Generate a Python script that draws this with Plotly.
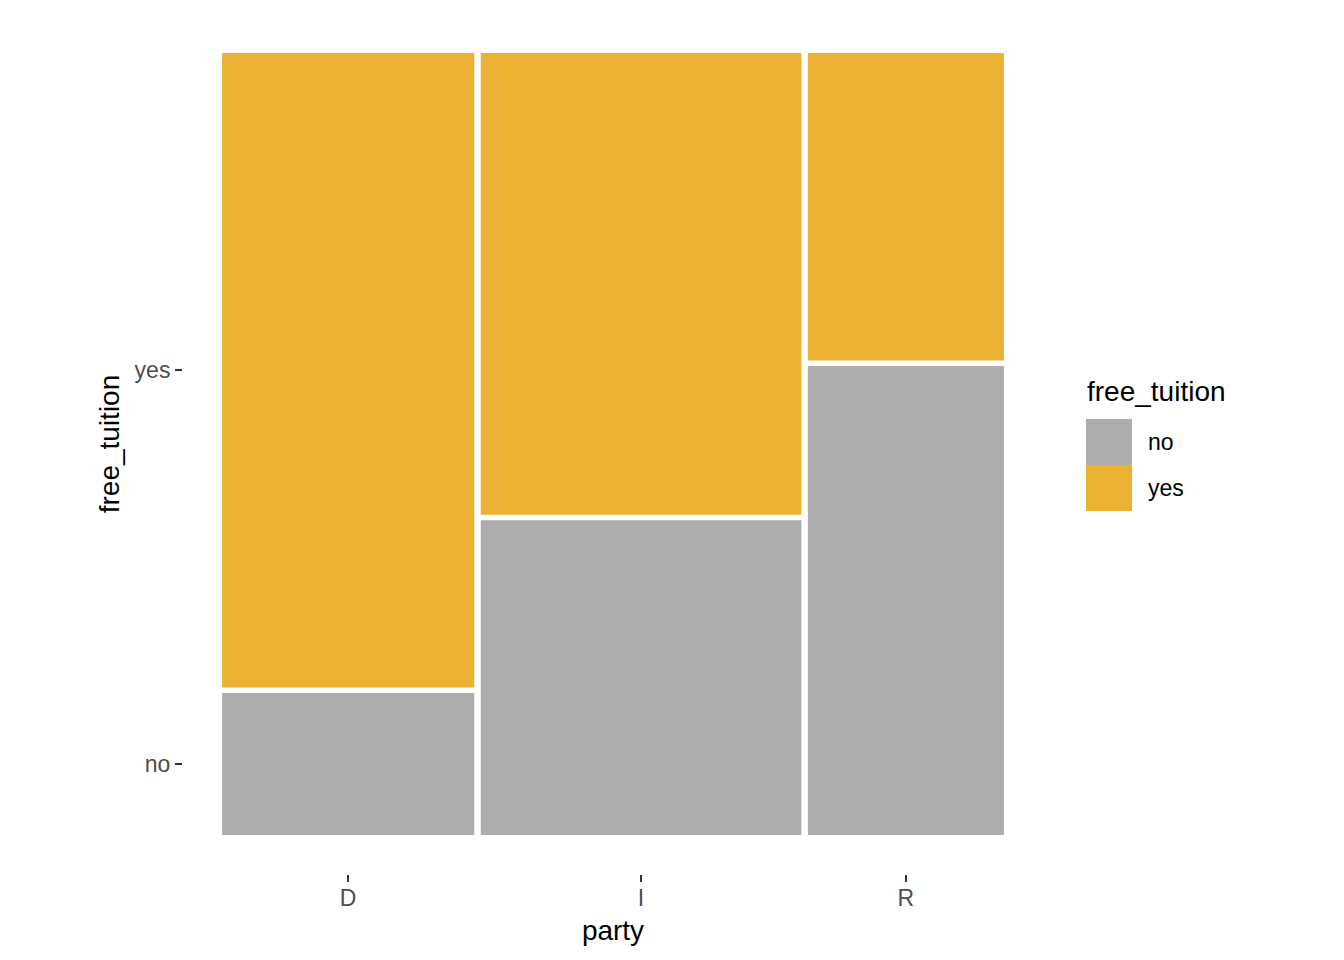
import plotly.graph_objects as go

# counts (column widths ~ party totals, splits ~ share)
party = ["D", "I", "R"]
no_counts = [60, 169, 154]
yes_counts = [268, 248, 101]
fill_colors = {"no": "#ADADAD", "yes": "#EBB133"}

W, H = 1344, 960
PAGE = 8  # browser body margin
L, T, PW, PH = 183 - PAGE, 14 - PAGE, 860, 860
GX, GY = 0.0083, 0.007  # spacing between tiles, data units

totals = [n + y for n, y in zip(no_counts, yes_counts)]
grand = sum(totals)
widths = [t / grand * (1 - GX * (len(totals) - 1)) for t in totals]
starts = []
pos = 0.0
for w in widths:
    starts.append(pos)
    pos += w + GX
centers = [s + w / 2 for s, w in zip(starts, widths)]
no_h = [n / t * (1 - GY) for n, t in zip(no_counts, totals)]
yes_base = [h + GY for h in no_h]
yes_h = [1 - b for b in yes_base]

fig = go.Figure()
fig.add_bar(x=centers, y=no_h, base=[0] * 3, width=widths, name="no",
            marker=dict(color=fill_colors["no"], line_width=0), showlegend=False)
fig.add_bar(x=centers, y=yes_h, base=yes_base, width=widths, name="yes",
            marker=dict(color=fill_colors["yes"], line_width=0), showlegend=False)

font = "Liberation Sans, Arial, sans-serif"
tick_font = dict(family=font, size=23, color="#4D4D4D")

fig.update_layout(
    width=W, height=H, barmode="overlay",
    margin=dict(l=L, r=W - L - PW, t=T, b=H - T - PH),
    plot_bgcolor="white", paper_bgcolor="white",
    xaxis=dict(range=[-0.05, 1.05], tickvals=centers, ticktext=party,
               showgrid=False, zeroline=False, ticks="outside", ticklen=7,
               tickwidth=1.5, tickcolor="#333333", tickfont=tick_font,
               ticklabelstandoff=-4,
               title=dict(text="party", font=dict(family=font, size=28, color="black"),
                          standoff=10)),
    yaxis=dict(range=[-0.05, 1.05], tickvals=[no_h[0] / 2, (yes_base[0] + 1) / 2],
               ticktext=["no", "yes"],
               showgrid=False, zeroline=False, ticks="outside", ticklen=7,
               tickwidth=1.5, tickcolor="#333333", tickfont=tick_font,
               title=dict(text="free_tuition", font=dict(family=font, size=28, color="black"),
                          standoff=6)),
)


def px_x(v):
    return (v - PAGE - L) / PW


def px_y(v):
    return (T + PH - (v - PAGE)) / PH


# legend drawn by hand to match the large ggplot keys
fig.add_annotation(x=px_x(1085), y=px_y(392), xref="paper", yref="paper",
                   text="free_tuition", showarrow=False, xanchor="left", yanchor="middle",
                   font=dict(family=font, size=28, color="black"))
for i, lab in enumerate(["no", "yes"]):
    top = 419 + i * 46
    fig.add_shape(type="rect", xref="paper", yref="paper",
                  x0=px_x(1086), x1=px_x(1132), y0=px_y(top), y1=px_y(top + 46),
                  fillcolor=fill_colors[lab], line_width=0)
    fig.add_annotation(x=px_x(1146), y=px_y(top + 23), xref="paper", yref="paper",
                       text=lab, showarrow=False, xanchor="left", yanchor="middle",
                       font=dict(family=font, size=23, color="black"))

fig.write_html("out.html")
